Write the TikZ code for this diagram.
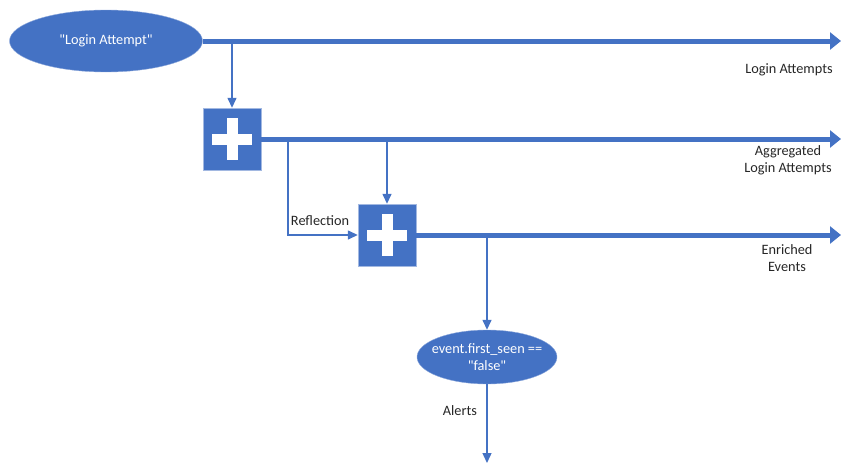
\documentclass[tikz,border=0pt]{standalone}
\usepackage{fontspec}
\setmainfont{Carlito}
\usetikzlibrary{shapes.geometric,arrows.meta,positioning}
\definecolor{flowblue}{HTML}{4472C4}

\begin{document}
\begin{tikzpicture}[x=1pt, y=-1pt, font=\fontsize{14.3}{17}\selectfont,
	source/.style={ellipse, fill=flowblue, draw=flowblue!60!white, thin, text=white, inner sep=0pt, align=center},
	merge/.style={rectangle, fill=flowblue, draw=flowblue!50!white, thin, minimum width=58pt, minimum height=62pt,
		path picture={
			\fill[white] ([xshift=-20pt, yshift=-5.5pt]path picture bounding box.center) rectangle +(40pt,11pt);
			\fill[white] ([xshift=-5.5pt, yshift=-21pt]path picture bounding box.center) rectangle +(11pt,42pt);
		}},
	mainflow/.style={draw=flowblue, line width=5pt, -{Triangle[length=11pt, width=17pt]}},
	sideflow/.style={draw=flowblue, line width=1.4pt, -{Triangle[length=10pt, width=9pt]}},
	lbl/.style={text=black!85, align=center}]
	\useasboundingbox (0,0) rectangle (841,463);

	\node[source, minimum width=193pt, minimum height=62pt] (login) at (106,41) {\textquotedbl Login Attempt\textquotedbl};
	\node[merge] (agg) at (232,139) {};
	\node[merge] (enrich) at (387,235) {};
	\node[source, inner xsep=-7pt, minimum width=140pt, minimum height=54pt] (alert) at (487,357) {event.first\_seen ==\\\textquotedbl false\textquotedbl};

	\coordinate (out1) at (841,41);
	\coordinate (out2) at (841,139);
	\coordinate (out3) at (841,235);
	\coordinate (out4) at (487,463);
	\coordinate (refl) at (288,139);

	% streams leaving to the right
	\draw[mainflow] (login.east) -- (out1);
	\draw[mainflow] (agg.east) -- (out2);
	\draw[mainflow] (enrich.east) -- (out3);

	\node[lbl] (lbl1) at (789,70) {Login Attempts};
	\node[lbl] (lbl2) at (788,160) {Aggregated\\Login Attempts};
	\node[lbl] (lbl3) at (787,258) {Enriched\\Events};

	% branches
	\draw[sideflow] (agg.north |- login.east) -- (agg.north);
	\draw[sideflow] (enrich.north |- agg.east) -- (enrich.north);
	\draw[sideflow] (refl) |- node[lbl, pos=0.73, above=5pt] {Reflection} (enrich.west);
	\draw[sideflow] (alert.north |- enrich.east) -- (alert.north);
	\draw[sideflow] (alert.south) -- node[lbl, pos=0.34, left=6pt] {Alerts} (out4);
\end{tikzpicture}
\end{document}
